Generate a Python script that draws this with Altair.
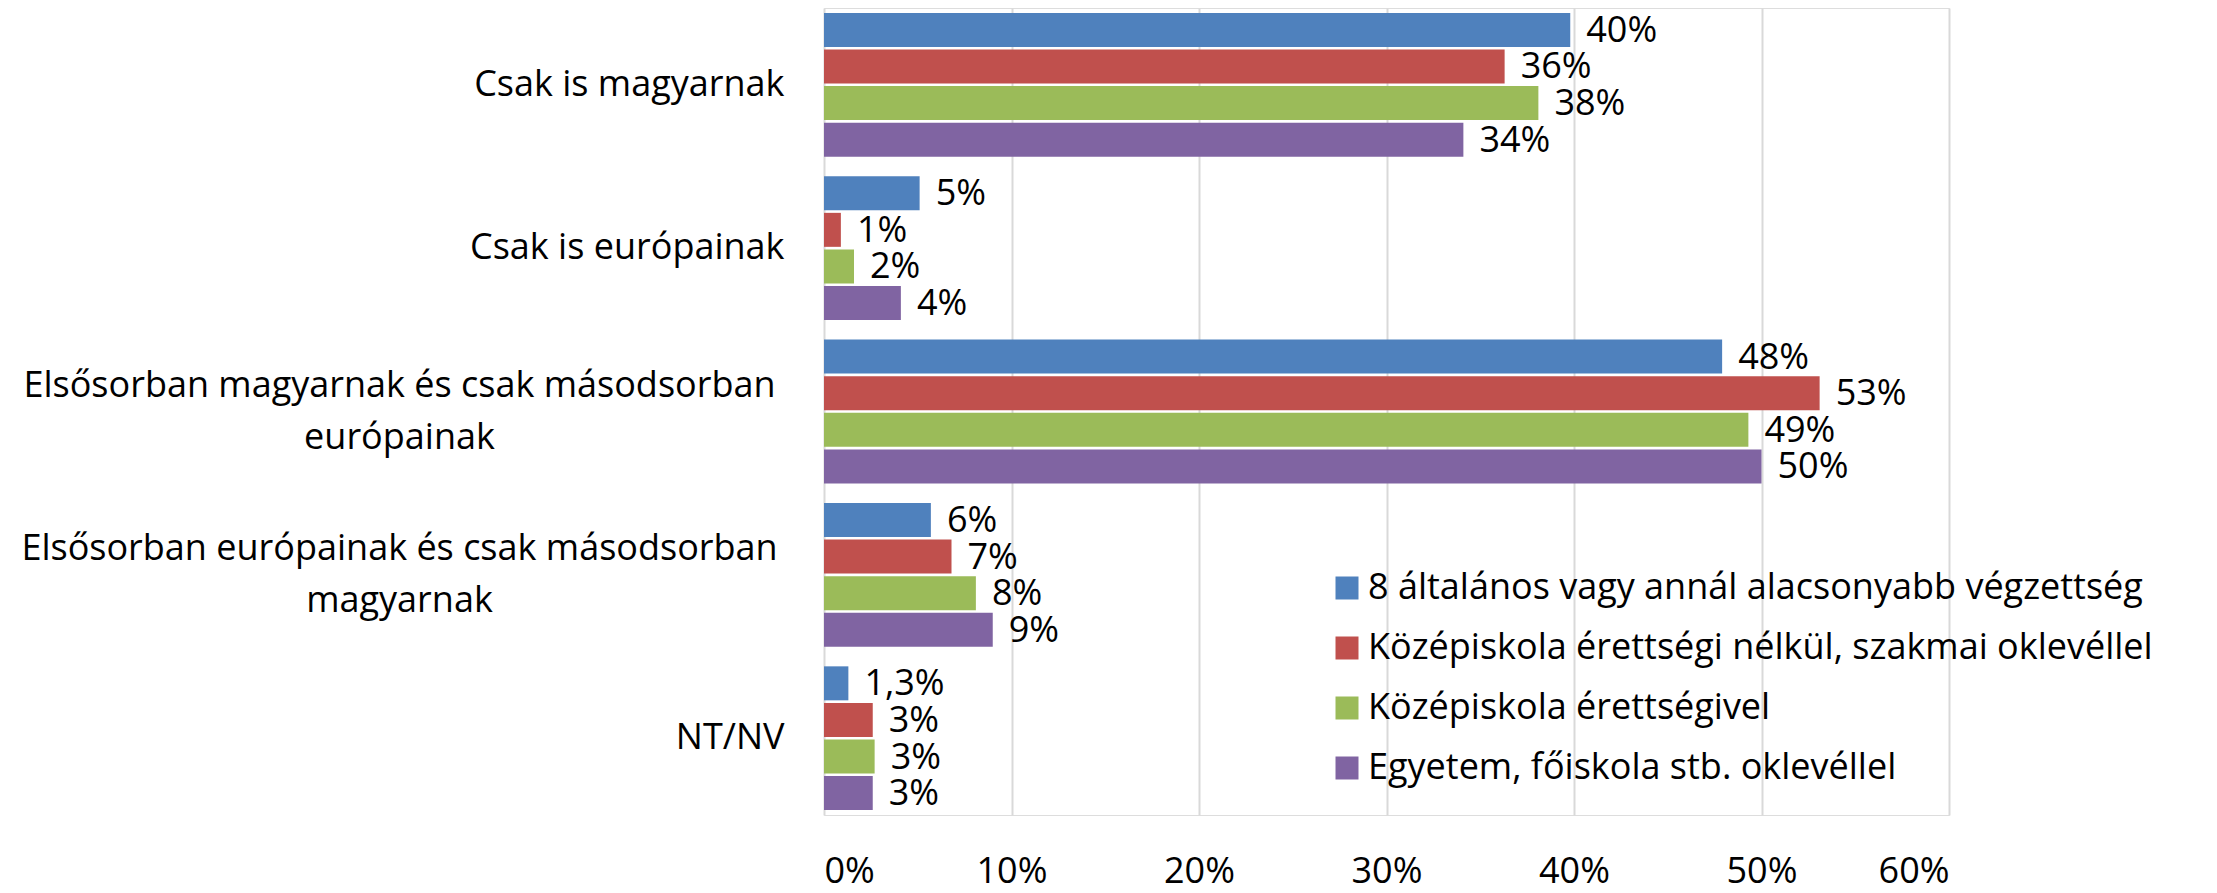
import altair as alt
import pandas as pd

categories = [
    "Csak is magyarnak",
    "Csak is európainak",
    "Elsősorban magyarnak és csak másodsorban európainak",
    "Elsősorban európainak és csak másodsorban magyarnak",
    "NT/NV",
]
category_lines = [
    ["Csak is magyarnak"],
    ["Csak is európainak"],
    ["Elsősorban magyarnak és csak másodsorban", "európainak"],
    ["Elsősorban európainak és csak másodsorban", "magyarnak"],
    ["NT/NV"],
]
series = [
    "8 általános vagy annál alacsonyabb végzettség",
    "Középiskola érettségi nélkül, szakmai oklevéllel",
    "Középiskola érettségivel",
    "Egyetem, főiskola stb. oklevéllel",
]
colors = ["#4F81BD", "#C0504D", "#9BBB59", "#8064A2"]

values_elem = [39.8, 5.1, 47.9, 5.7, 1.3]
values_voc = [36.3, 0.9, 53.1, 6.8, 2.6]
values_sec = [38.1, 1.6, 49.3, 8.1, 2.7]
values_uni = [34.1, 4.1, 50.0, 9.0, 2.6]

labels_elem = ["40%", "5%", "48%", "6%", "1,3%"]
labels_voc = ["36%", "1%", "53%", "7%", "3%"]
labels_sec = ["38%", "2%", "49%", "8%", "3%"]
labels_uni = ["34%", "4%", "50%", "9%", "3%"]

x_ticks = [0, 0.1, 0.2, 0.3, 0.4, 0.5, 0.6]

all_values = [values_elem, values_voc, values_sec, values_uni]
all_labels = [labels_elem, labels_voc, labels_sec, labels_uni]

rows = []
for si, s in enumerate(series):
    for ci, c in enumerate(categories):
        rows.append({
            "category": c,
            "series": s,
            "value": all_values[si][ci] / 100.0,
            "label": all_labels[si][ci],
        })
df = pd.DataFrame(rows)

FONT = "Open Sans"
FS = 36

multi = [c for c, l in zip(categories, category_lines) if len(l) > 1]
expr = "datum.label"
for c, l in zip(categories, category_lines):
    if len(l) > 1:
        arr = "[" + ", ".join("'" + p + "'" for p in l) + "]"
        expr = "datum.value == '" + c + "' ? " + arr + " : (" + expr + ")"
multi_test = "indexof([" + ", ".join("'" + c + "'" for c in multi) + "], datum.value) >= 0"

y_enc = alt.Y(
    "category:N",
    sort=categories,
    title=None,
    scale=alt.Scale(paddingInner=0.12, paddingOuter=0.03),
    axis=alt.Axis(
        domain=False,
        ticks=False,
        grid=False,
        labelFont=FONT,
        labelFontSize=FS,
        labelColor="black",
        labelLimit=0,
        labelLineHeight=52,
        labelExpr=expr,
        labelAlign={"condition": {"test": multi_test, "value": "center"}, "value": "right"},
        labelPadding={"condition": {"test": multi_test, "value": 425}, "value": 40},
        labelOffset={"condition": {"test": multi_test, "value": -26}, "value": 0},
    ),
)
yoff_enc = alt.YOffset(
    "series:N",
    sort=series,
    scale=alt.Scale(paddingInner=0.071, paddingOuter=0),
)
x_enc = alt.X(
    "value:Q",
    title=None,
    scale=alt.Scale(domain=[0, 0.6], nice=False),
    axis=alt.Axis(
        values=x_ticks,
        format=".0%",
        grid=True,
        gridColor="#D9D9D9",
        gridWidth=2,
        domain=False,
        ticks=False,
        labelFont=FONT,
        labelFontSize=FS,
        labelColor="black",
        labelPadding=39,
    ),
)

bars = alt.Chart(df).mark_bar().encode(
    x=x_enc,
    y=y_enc,
    yOffset=yoff_enc,
    color=alt.Color(
        "series:N",
        sort=series,
        scale=alt.Scale(domain=series, range=colors),
        legend=alt.Legend(
            orient="none",
            legendX=505,
            legendY=562,
            title=None,
            symbolType="square",
            symbolSize=529,
            symbolStrokeWidth=0,
            labelFont=FONT,
            labelFontSize=FS,
            labelColor="black",
            labelLimit=0,
            labelOffset=3,
            rowPadding=24,
            padding=0,
        ),
    ),
)

text = alt.Chart(df).mark_text(
    align="left", baseline="middle", dx=16, dy=1, font=FONT, fontSize=FS, color="black"
).encode(
    x=alt.X("value:Q", scale=alt.Scale(domain=[0, 0.6], nice=False)),
    y=alt.Y("category:N", sort=categories),
    yOffset=alt.YOffset("series:N", sort=series),
    text="label:N",
)

chart = alt.layer(bars, text).properties(
    width=1125,
    height=807,
    autosize=alt.AutoSizeParams(type="none"),
    padding={"left": 816, "top": 0, "right": 250, "bottom": 70},
).configure_view(stroke=None).configure(background="white")

chart.save("out.html", embed_options={"renderer": "svg", "actions": False})
